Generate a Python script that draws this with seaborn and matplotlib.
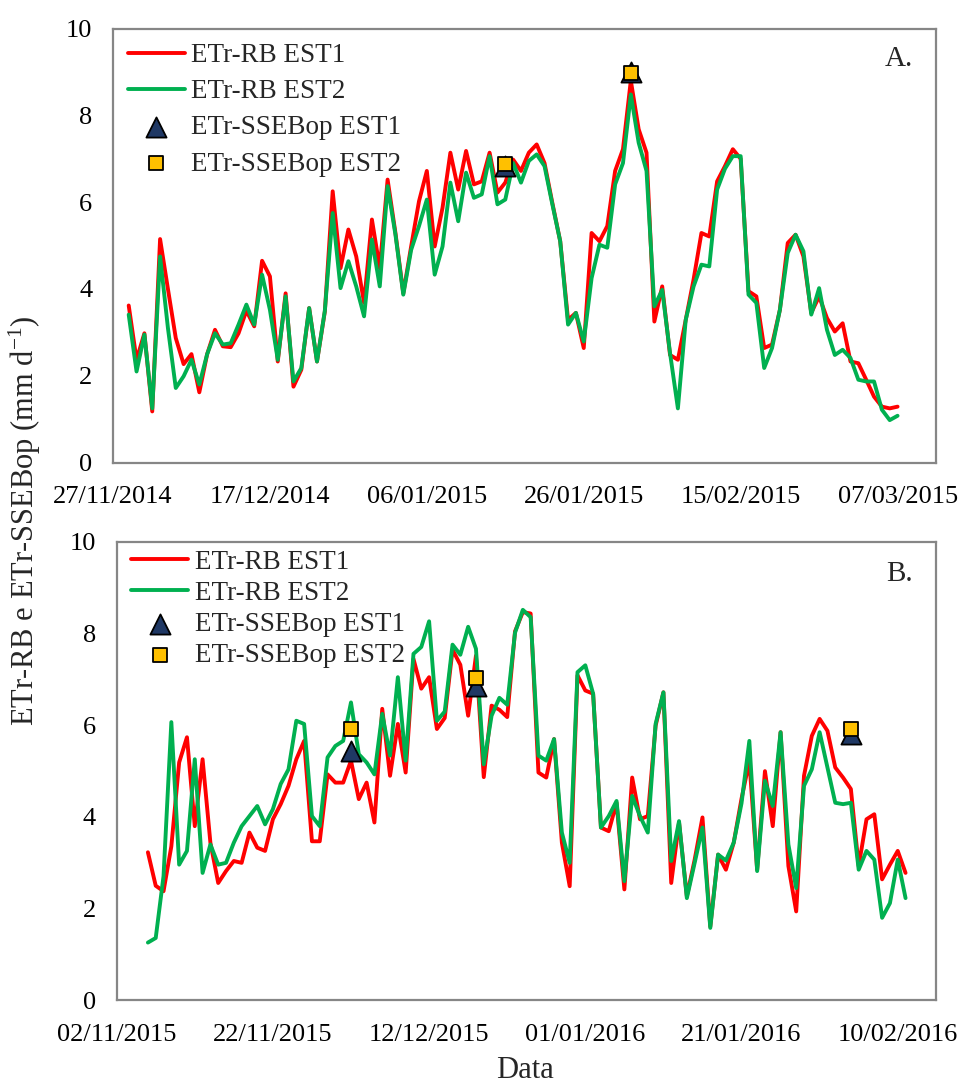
import pandas as pd
import numpy as np
import matplotlib
matplotlib.use('Agg')
import matplotlib.pyplot as plt
import matplotlib.dates as mdates
import seaborn as sns

# Panel A: daily ETr from 29/11/2014 to 07/03/2015
start_a = '2014-11-29'
etr_rb_est1_a = [3.62, 2.37, 2.98, 1.18, 5.15, 4.00, 2.87, 2.27, 2.50, 1.62,
                 2.50, 3.06, 2.68, 2.66, 2.98, 3.50, 3.14, 4.65, 4.29, 2.33,
                 3.90, 1.75, 2.14, 3.56, 2.33, 3.48, 6.25, 4.48, 5.37, 4.75,
                 3.68, 5.60, 4.48, 6.52, 5.29, 3.90, 4.98, 6.02, 6.72, 4.98,
                 5.87, 7.14, 6.29, 7.18, 6.41, 6.48, 7.14, 6.22, 6.45, 6.98,
                 6.72, 7.14, 7.33, 6.90, 5.98, 5.10, 3.29, 3.45, 2.64, 5.29,
                 5.10, 5.45, 6.72, 7.22, 8.80, 7.68, 7.14, 3.25, 4.06, 2.48,
                 2.37, 3.29, 4.22, 5.29, 5.21, 6.48, 6.83, 7.22, 7.00, 3.95,
                 3.83, 2.64, 2.72, 3.52, 5.06, 5.25, 4.75, 3.45, 3.83, 3.33,
                 3.02, 3.21, 2.33, 2.29, 1.91, 1.52, 1.29, 1.25, 1.29]
etr_rb_est2_a = [3.41, 2.10, 2.95, 1.25, 4.75, 3.10, 1.72, 1.99, 2.37, 1.80,
                 2.50, 2.98, 2.72, 2.75, 3.18, 3.64, 3.18, 4.33, 3.52, 2.37,
                 3.83, 1.87, 2.18, 3.56, 2.33, 3.50, 5.75, 4.02, 4.64, 4.06,
                 3.37, 5.14, 4.06, 6.37, 5.25, 3.87, 4.90, 5.45, 6.06, 4.33,
                 4.98, 6.45, 5.56, 6.68, 6.10, 6.18, 7.06, 5.95, 6.06, 6.90,
                 6.45, 6.95, 7.10, 6.83, 5.95, 5.10, 3.18, 3.45, 2.79, 4.25,
                 5.02, 4.95, 6.41, 6.90, 8.48, 7.37, 6.72, 3.60, 3.98, 2.52,
                 1.25, 3.29, 4.06, 4.56, 4.52, 6.29, 6.77, 7.06, 7.06, 3.87,
                 3.68, 2.18, 2.64, 3.52, 4.83, 5.25, 4.87, 3.41, 4.02, 3.06,
                 2.48, 2.60, 2.41, 1.91, 1.87, 1.87, 1.22, 0.98, 1.08]
ssebop_dates_a = ['2015-01-16', '2015-02-01']
ssebop_est1_a = [6.83, 9.00]
ssebop_est2_a = [6.87, 8.97]

# Panel B: daily ETr from 06/11/2015 to 11/02/2016
start_b = '2015-11-06'
etr_rb_est1_b = [3.23, 2.50, 2.38, 3.36, 5.19, 5.74, 3.80, 5.26, 3.44, 2.56,
                 2.82, 3.04, 3.00, 3.66, 3.33, 3.26, 3.95, 4.28, 4.68, 5.26,
                 5.66, 3.47, 3.47, 4.93, 4.75, 4.75, 5.23, 4.39, 4.75, 3.88,
                 6.36, 4.90, 6.03, 4.97, 7.45, 6.80, 7.05, 5.92, 6.16, 7.65,
                 7.32, 6.21, 7.52, 4.87, 6.43, 6.34, 6.18, 8.05, 8.47, 8.44,
                 4.97, 4.86, 5.70, 3.44, 2.49, 7.09, 6.76, 6.69, 3.77, 3.69,
                 4.31, 2.42, 4.86, 3.95, 4.02, 5.99, 6.72, 2.56, 3.88, 2.27,
                 3.07, 3.99, 1.61, 3.18, 2.85, 3.44, 4.40, 5.22, 2.85, 5.00,
                 3.80, 5.85, 2.93, 1.94, 4.90, 5.77, 6.14, 5.88, 5.08, 4.86,
                 4.61, 2.93, 3.95, 4.06, 2.64, 2.96, 3.26, 2.78]
etr_rb_est2_b = [1.26, 1.36, 2.71, 6.07, 2.96, 3.26, 5.26, 2.78, 3.40, 2.96,
                 3.00, 3.44, 3.80, 4.02, 4.24, 3.84, 4.17, 4.72, 5.04, 6.10,
                 6.03, 4.02, 3.80, 5.30, 5.55, 5.66, 6.50, 5.37, 5.19, 4.93,
                 6.25, 5.34, 7.05, 5.23, 7.56, 7.71, 8.27, 6.10, 6.30, 7.76,
                 7.54, 8.15, 7.67, 5.15, 6.21, 6.60, 6.45, 8.02, 8.52, 8.36,
                 5.34, 5.23, 5.70, 3.66, 3.00, 7.16, 7.31, 6.69, 3.77, 4.02,
                 4.35, 2.60, 4.46, 4.02, 3.66, 6.03, 6.72, 3.04, 3.91, 2.23,
                 3.00, 3.77, 1.58, 3.18, 3.05, 3.44, 4.30, 5.66, 2.82, 4.79,
                 4.24, 5.85, 3.40, 2.45, 4.68, 5.04, 5.85, 5.08, 4.31, 4.28,
                 4.31, 2.85, 3.26, 3.07, 1.80, 2.12, 3.07, 2.23]
ssebop_dates_b = ['2015-12-02', '2015-12-18', '2016-02-04']
ssebop_est1_b = [5.45, 6.85, 5.82]
ssebop_est2_b = [5.92, 7.03, 5.92]

sns.set_style('white')
plt.rcParams['font.family'] = ['Liberation Serif', 'DejaVu Serif']
plt.rcParams['mathtext.fontset'] = 'custom'
plt.rcParams['mathtext.rm'] = 'Liberation Serif'
plt.rcParams['mathtext.it'] = 'Liberation Serif:italic'

RED = '#FF0000'
GREEN = '#00B050'
NAVY = '#1F3864'
GOLD = '#FFC000'
GRAY = '#868686'
FS = 19
LEG_FS = 19.5
LAB_FS = 22

fig = plt.figure(figsize=(9.61, 10.84), dpi=100)
ax_a = fig.add_axes([0.1176, 0.5732, 0.8564, 0.4005])
ax_b = fig.add_axes([0.1214, 0.0772, 0.8526, 0.4228])


def draw_panel(ax, start, est1, est2, m_dates, m1, m2, axis_start, tag, leg_y, spacing):
    dates = pd.date_range(start, periods=len(est1), freq='D')
    df = pd.DataFrame({'date': dates, 'est1': est1, 'est2': est2})
    mk = pd.DataFrame({'date': pd.to_datetime(m_dates), 'm1': m1, 'm2': m2})

    sns.lineplot(data=df, x='date', y='est1', color=RED, lw=2.8, ax=ax, label='ETr-RB EST1')
    sns.lineplot(data=df, x='date', y='est2', color=GREEN, lw=2.8, ax=ax, label='ETr-RB EST2')
    sns.scatterplot(data=mk, x='date', y='m1', marker='^', s=210, color=NAVY,
                    edgecolor='black', linewidth=1.3, ax=ax, label='ETr-SSEBop EST1', zorder=5)
    sns.scatterplot(data=mk, x='date', y='m2', marker='s', s=115, color=GOLD,
                    edgecolor='black', linewidth=1.3, ax=ax, label='ETr-SSEBop EST2', zorder=6)

    t0 = pd.Timestamp(axis_start)
    ticks = [t0 + pd.Timedelta(days=20 * i) for i in range(6)]
    ax.set_xticks(ticks)
    ax.xaxis.set_major_formatter(mdates.DateFormatter('%d/%m/%Y'))
    ax.set_xlim(t0, t0 + pd.Timedelta(days=104.9))
    ax.set_ylim(0, 10)
    ax.set_yticks(np.arange(0, 11, 2))
    ax.set_xlabel('')
    ax.set_ylabel('')
    for sp in ax.spines.values():
        sp.set_color(GRAY)
        sp.set_linewidth(1.6)
    ax.tick_params(axis='both', direction='out', length=6, width=1.6, color=GRAY,
                   labelsize=FS, labelcolor='black', pad=9)
    ax.tick_params(axis='x', pad=11)
    ax.text(0.955, 0.93, tag, transform=ax.transAxes, fontsize=LAB_FS - 1,
            ha='center', va='center')
    ax.legend(loc='upper left', bbox_to_anchor=(0.018, leg_y), frameon=False, fontsize=LEG_FS,
              borderpad=0, borderaxespad=0, handlelength=2.1, handletextpad=0.25,
              labelspacing=spacing)


draw_panel(ax_a, start_a, etr_rb_est1_a, etr_rb_est2_a, ssebop_dates_a, ssebop_est1_a,
           ssebop_est2_a, '2014-11-27', 'A.', 0.966, 0.41)
draw_panel(ax_b, start_b, etr_rb_est1_b, etr_rb_est2_b, ssebop_dates_b, ssebop_est1_b,
           ssebop_est2_b, '2015-11-02', 'B.', 0.983, 0.22)

fig.text(0.026, 0.52, 'ETr-RB e ETr-SSEBop (mm d$^{\\mathregular{-1}}$)', rotation=90,
         ha='center', va='center', fontsize=LAB_FS)
fig.text(0.546, 0.012, 'Data', ha='center', va='center', fontsize=LAB_FS)

fig.savefig('out.png', dpi=100)
